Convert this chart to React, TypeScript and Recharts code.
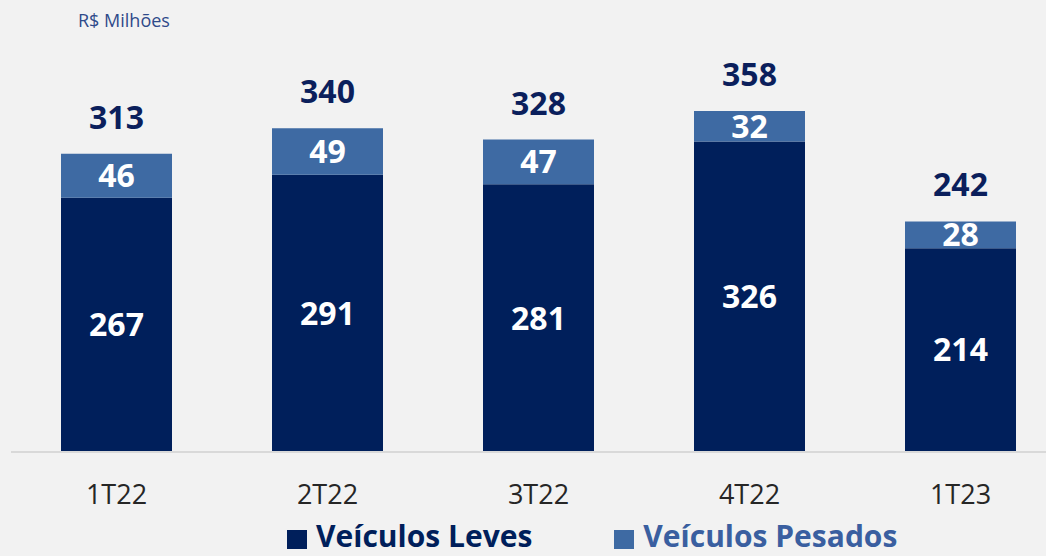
import React from 'react';
import { BarChart, Bar, XAxis, YAxis, LabelList } from 'recharts';

const categories = ['1T22', '2T22', '3T22', '4T22', '1T23'];
const leves = [267, 291, 281, 326, 214];
const pesados = [46, 49, 47, 32, 28];
const totals = [313, 340, 328, 358, 242];

const data = categories.map((c, i) => ({ name: c, leves: leves[i], pesados: pesados[i], total: totals[i] }));

const FONT = '"Open Sans", sans-serif';
const NAVY = '#001f5b';
const BLUE = '#3e6aa3';

const TotalLabel = (props: any) => {
  const { x, y, width, index } = props;
  return (
    <text x={x + width / 2} y={y - 25} textAnchor="middle" fill="#0b1f5c" fontFamily={FONT} fontWeight={700} fontSize={32}>
      {totals[index]}
    </text>
  );
};

export default function App() {
  return (
    <div style={{ position: 'absolute', left: 0, top: 0, width: 1046, height: 556, overflow: 'hidden', background: '#f2f2f2', fontFamily: FONT }}>
      <div style={{ position: 'absolute', left: 78, top: 8, fontSize: 18, lineHeight: '24px', color: '#2f4a8a' }}>R$ Milhões</div>
      <BarChart width={1080} height={556} data={data} margin={{ top: 71, right: 14, left: 11, bottom: 0 }} barSize={111}>
        <XAxis dataKey="name" height={104} axisLine={{ stroke: '#d9d9d9', strokeWidth: 2 }} tickLine={false} tickSize={0} tickMargin={33}
          tick={{ fontSize: 27, fill: '#262626', fontFamily: FONT }} />
        <YAxis hide domain={[0, 400]} />
        <Bar dataKey="leves" stackId="a" fill={NAVY} isAnimationActive={false}>
          <LabelList dataKey="leves" position="center" fill="#ffffff" fontFamily={FONT} fontWeight={700} fontSize={32} />
        </Bar>
        <Bar dataKey="pesados" stackId="a" fill={BLUE} isAnimationActive={false}>
          <LabelList dataKey="pesados" position="center" fill="#ffffff" fontFamily={FONT} fontWeight={700} fontSize={32} />
          <LabelList dataKey="total" content={TotalLabel} />
        </Bar>
      </BarChart>
      <div style={{ position: 'absolute', left: 287, top: 521, display: 'flex', alignItems: 'center', fontWeight: 700, fontSize: 30, lineHeight: '30px', whiteSpace: 'nowrap' }}>
        <span style={{ width: 20, height: 19, background: NAVY, display: 'inline-block', marginRight: 9, position: 'relative', top: 3 }} />
        <span style={{ color: NAVY }}>Veículos Leves</span>
        <span style={{ width: 20, height: 19, background: BLUE, display: 'inline-block', marginLeft: 82, marginRight: 9, position: 'relative', top: 3 }} />
        <span style={{ color: '#3a5fa0' }}>Veículos Pesados</span>
      </div>
    </div>
  );
}
